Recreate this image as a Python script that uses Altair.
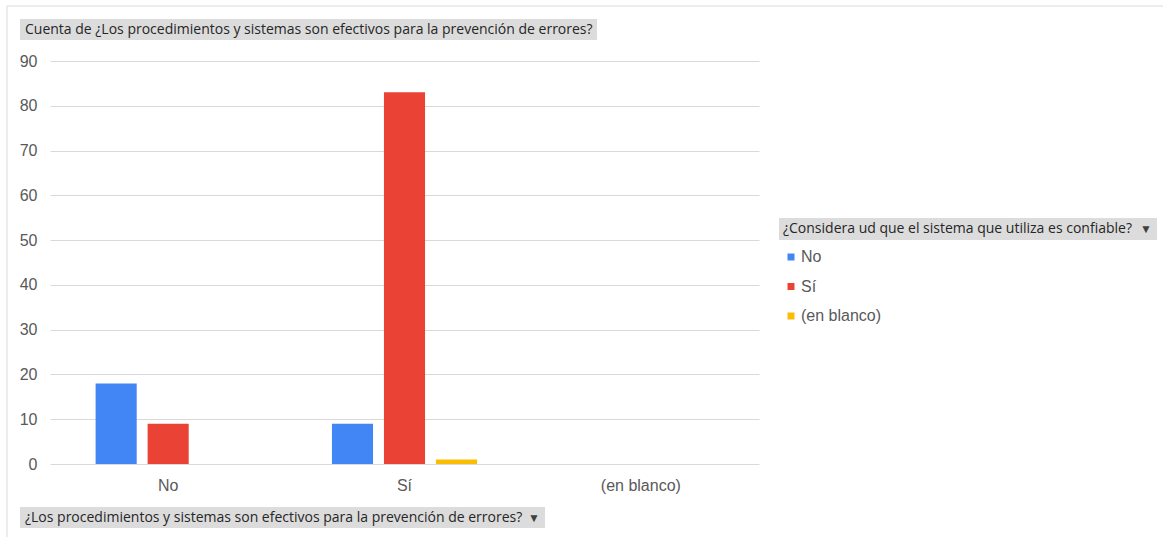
import altair as alt
import pandas as pd

categories = ["No", "Sí", "(en blanco)"]
series = ["No", "Sí", "(en blanco)"]
cat_col = ["No", "No", "Sí", "Sí", "Sí"]
ser_col = ["No", "Sí", "No", "Sí", "(en blanco)"]
counts = [18, 9, 9, 83, 1]
colors = ["#4285F4", "#EA4335", "#FBBC04"]

title_text = "Cuenta de ¿Los procedimientos y sistemas son efectivos para la prevención de errores?"
legend_title = "¿Considera ud que el sistema que utiliza es confiable?"
xaxis_text = "¿Los procedimientos y sistemas son efectivos para la prevención de errores?"

df = pd.DataFrame({"cat": cat_col, "ser": ser_col, "n": counts})
one = pd.DataFrame({"d": [0]})

W, H = 709, 403
FONT = "Liberation Sans"
BTN_FONT = "Open Sans"

bars = alt.Chart(df).mark_bar().encode(
    x=alt.X("cat:N", sort=categories,
            scale=alt.Scale(domain=categories, paddingInner=0.386, paddingOuter=0.193),
            axis=alt.Axis(title=None, labelAngle=0, labelFontSize=16, labelColor="#595959",
                          labelFont=FONT, ticks=False, domain=False, grid=False, labelPadding=13)),
    xOffset=alt.XOffset("ser:N", sort=series,
                        scale=alt.Scale(domain=series, paddingInner=0.21, paddingOuter=0)),
    y=alt.Y("n:Q", scale=alt.Scale(domain=[0, 90], nice=False),
            axis=alt.Axis(title=None, values=list(range(0, 91, 10)), labelFontSize=16,
                          labelColor="#595959", labelFont=FONT, ticks=False, domain=False,
                          labelPadding=13, gridColor="#d9d9d9")),
    color=alt.Color("ser:N", sort=series,
                    scale=alt.Scale(domain=series, range=colors),
                    legend=alt.Legend(title=None, orient="none", legendX=733, legendY=188,
                                      symbolType="square", symbolSize=49, symbolStrokeWidth=0,
                                      labelFontSize=16, labelColor="#595959", labelFont=FONT,
                                      rowPadding=13.5, labelOffset=2, padding=0)),
)

def box(x, y, x2, y2, fill="#dcdcdc"):
    return alt.Chart(one).mark_rect(fill=fill).encode(
        x=alt.value(x - 50), y=alt.value(y - 61), x2=alt.value(x2 - 50), y2=alt.value(y2 - 61))

def frame_box(x, y, x2, y2):
    return alt.Chart(one).mark_rect(filled=False, stroke="#d9d9d9", strokeWidth=1).encode(
        x=alt.value(x - 50), y=alt.value(y - 61), x2=alt.value(x2 - 50), y2=alt.value(y2 - 61))

def label(txt, x, y, size=14):
    return alt.Chart(one).mark_text(align="left", baseline="middle", font=BTN_FONT,
                                     fontSize=size, color="#262626", text=txt).encode(
        x=alt.value(x - 50), y=alt.value(y - 61))

def arrow(x, y):
    return alt.Chart(one).mark_text(align="center", baseline="middle", font=BTN_FONT,
                                     fontSize=12, color="#404040", text="▼").encode(
        x=alt.value(x - 50), y=alt.value(y - 61))

frame = frame_box(7, 6, 1200, 600)
b1 = box(20, 19, 597, 40)
b2 = box(779, 218, 1157, 240)
b3 = box(20, 507, 545, 528)
t1 = label(title_text, 25, 29.5)
t2 = label(legend_title, 783, 229)
t3 = label(xaxis_text, 25, 517.5)
a2 = arrow(1146, 229)
a3 = arrow(534, 517.5)

chart = alt.layer(frame, b1, b2, b3, bars, t1, t2, t3, a2, a3).properties(
    width=W, height=H,
    background="white",
    autosize=alt.AutoSizeParams(type="none"),
    padding={"left": 50, "top": 61, "right": 404, "bottom": 73},
).configure_view(strokeWidth=0, stroke="transparent")

chart.save("out.html", embed_options={"renderer": "svg", "actions": False})
